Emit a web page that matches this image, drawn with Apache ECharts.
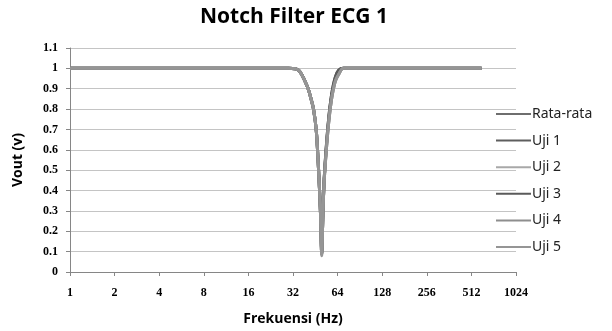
<!DOCTYPE html>
<html>
<head>
<meta charset="utf-8">
<script src="https://cdn.jsdelivr.net/npm/echarts@6/dist/echarts.min.js"></script>
<style>
  html, body { margin: 0; padding: 0; background: #fff; }
  #chart { width: 612px; height: 331px; }
</style>
</head>
<body>
<div id="chart"></div>
<script>
// frekuensi uji (Hz)
var freq = [1, 5, 10, 20, 30, 35, 40, 42, 44, 46, 48, 49, 50, 51, 52, 54, 56, 58, 60, 62, 65, 70, 100, 200, 400, 600];
// Vout per uji
var rataRata = [1, 1, 1, 1, 1, 0.99, 0.91, 0.86, 0.8, 0.69, 0.45, 0.3, 0.09, 0.3, 0.46, 0.63, 0.76, 0.85, 0.91, 0.95, 0.98, 1, 1, 1, 1, 1];
var uji1 = [1, 1, 1, 1, 1, 0.99, 0.91, 0.86, 0.8, 0.69, 0.45, 0.3, 0.1, 0.3, 0.46, 0.64, 0.77, 0.86, 0.92, 0.96, 0.99, 1, 1, 1, 1, 1];
var uji2 = [1, 1, 1, 1, 1, 0.99, 0.91, 0.86, 0.8, 0.69, 0.45, 0.3, 0.09, 0.3, 0.45, 0.62, 0.75, 0.84, 0.9, 0.94, 0.97, 1, 1, 1, 1, 1];
var uji3 = [1, 1, 1, 1, 1, 0.99, 0.91, 0.86, 0.8, 0.69, 0.45, 0.3, 0.09, 0.3, 0.46, 0.64, 0.77, 0.86, 0.92, 0.96, 0.99, 1, 1, 1, 1, 1];
var uji4 = [1, 1, 1, 1, 1, 0.99, 0.91, 0.86, 0.8, 0.69, 0.45, 0.3, 0.09, 0.3, 0.45, 0.62, 0.75, 0.84, 0.9, 0.94, 0.97, 1, 1, 1, 1, 1];
var uji5 = [1, 1, 1, 1, 1, 0.99, 0.91, 0.86, 0.8, 0.69, 0.45, 0.3, 0.08, 0.3, 0.45, 0.62, 0.75, 0.84, 0.9, 0.94, 0.97, 1, 1, 1, 1, 1];

var names = ['Rata-rata', 'Uji 1', 'Uji 2', 'Uji 3', 'Uji 4', 'Uji 5'];
var values = [rataRata, uji1, uji2, uji3, uji4, uji5];
var colors = ['#6e6e6e', '#5e5e5e', '#a8a8a8', '#5a5a5a', '#8e8e8e', '#959595'];

function pairs(v) {
  var out = [];
  for (var i = 0; i < freq.length; i++) out.push([freq[i], v[i]]);
  return out;
}

var series = [];
for (var k = 0; k < names.length; k++) {
  series.push({
    name: names[k],
    type: 'line',
    data: pairs(values[k]),
    smooth: 0.3,
    symbol: 'none',
    color: colors[k],
    lineStyle: { width: 3, color: colors[k] }
  });
}

var labelFont = { color: '#000', fontFamily: 'Liberation Serif', fontWeight: 'bold', fontSize: 12 };
var nameFont = { fontFamily: 'Open Sans', fontWeight: 'bold', fontSize: 14, color: '#000' };

var option = {
  animation: false,
  title: {
    text: 'Notch Filter ECG 1',
    left: 289,
    top: 2,
    textAlign: 'center',
    textStyle: { fontFamily: 'Open Sans', fontWeight: 'bold', fontSize: 21, color: '#000' }
  },
  legend: {
    orient: 'vertical',
    left: 491,
    top: 102,
    itemWidth: 35,
    itemHeight: 15,
    itemGap: 12.6,
    icon: 'path://M0,6h35v2h-35z',
    data: names,
    textStyle: { fontFamily: 'Noto Sans', fontSize: 14, color: '#222', padding: [0, 0, 0, -4] }
  },
  grid: { left: 70, right: 96, top: 48, bottom: 54 },
  xAxis: {
    type: 'log',
    logBase: 2,
    min: 1,
    max: 1024,
    interval: 1,
    name: 'Frekuensi (Hz)',
    nameLocation: 'middle',
    nameGap: 40,
    nameTextStyle: nameFont,
    axisLine: { lineStyle: { color: '#868686', width: 1 } },
    axisTick: { show: true, length: 4, lineStyle: { color: '#868686' } },
    axisLabel: Object.assign({ margin: 15, formatter: function (v) { return String(Math.round(v)); } }, labelFont),
    splitLine: { show: false }
  },
  yAxis: {
    type: 'value',
    min: 0,
    max: 1.1,
    interval: 0.1,
    name: 'Vout (v)',
    nameLocation: 'middle',
    nameGap: 45,
    nameTextStyle: nameFont,
    axisLine: { show: true, lineStyle: { color: '#868686', width: 1 } },
    axisTick: { show: true, length: 4, lineStyle: { color: '#868686' } },
    axisLabel: Object.assign({ margin: 12, formatter: function (v) { return String(+v.toFixed(1)); } }, labelFont),
    splitLine: { show: true, lineStyle: { color: '#c4c4c4', width: 1 } }
  },
  series: series
};

var chart = echarts.init(document.getElementById('chart'), null, { renderer: 'canvas' });
chart.setOption(option);
</script>
</body>
</html>
